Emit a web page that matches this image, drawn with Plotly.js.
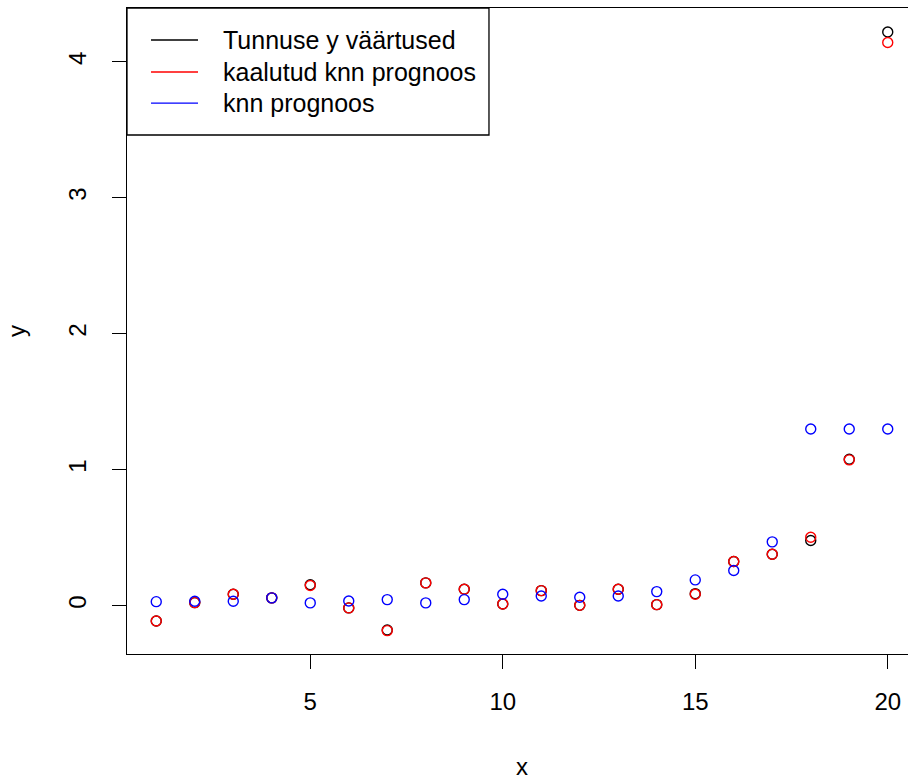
<!DOCTYPE html>
<html>
<head>
<meta charset="utf-8">
<script src="https://cdn.plot.ly/plotly-3.0.1.min.js"></script>
<style>
  html, body { margin: 0; padding: 0; background: #fff; overflow: hidden; }
  #frame { width: 908px; height: 780px; overflow: hidden; position: relative; }
  #plot { width: 960px; height: 780px; }
</style>
</head>
<body>
<div id="frame"><div id="plot"></div></div>
<script>
// x positions 1..20
const xs = [1, 2, 3, 4, 5, 6, 7, 8, 9, 10, 11, 12, 13, 14, 15, 16, 17, 18, 19, 20];

// observed y values
const yObserved = [-0.113, 0.022, 0.083, 0.057, 0.153, -0.017, -0.180, 0.167, 0.120, 0.012,
                   0.110, 0.002, 0.120, 0.007, 0.088, 0.324, 0.378, 0.479, 1.077, 4.219];

// weighted knn prediction
const yWeighted = [-0.113, 0.022, 0.083, 0.057, 0.148, -0.017, -0.184, 0.167, 0.120, 0.012,
                   0.110, 0.002, 0.120, 0.007, 0.084, 0.324, 0.378, 0.503, 1.072, 4.142];

// plain knn prediction
const yKnn = [0.029, 0.032, 0.032, 0.057, 0.020, 0.034, 0.044, 0.020, 0.044, 0.083,
              0.071, 0.061, 0.071, 0.103, 0.189, 0.258, 0.469, 1.299, 1.299, 1.299];

const seriesNames = ['Tunnuse y väärtused', 'kaalutud knn prognoos', 'knn prognoos'];
const seriesColors = ['#000000', '#ff0000', '#0000ff'];
const seriesValues = [yObserved, yWeighted, yKnn];

const fontFamily = '"Liberation Sans", Arial, sans-serif';

// open-circle points, drawn in order black, red, blue
const traces = seriesValues.map((vals, i) => ({
  x: xs, y: vals, type: 'scatter', mode: 'markers',
  name: seriesNames[i], showlegend: false, hoverinfo: 'x+y',
  marker: { symbol: 'circle-open', size: 10, color: seriesColors[i],
            line: { width: 1.4, color: seriesColors[i] } }
}));

// legend box in the top-left corner of the plot area (paper coordinates)
const legendBox = { x0: 0, x1: 0.4582, y0: 0.8034, y1: 1 };
const legendRows = [0.9505, 0.9009, 0.8529];
const keyX = [0.0304, 0.0899];
const labelX = 0.119;

const shapes = [{
  type: 'rect', xref: 'paper', yref: 'paper',
  x0: legendBox.x0, x1: legendBox.x1, y0: legendBox.y0, y1: legendBox.y1,
  line: { color: '#000', width: 1.3 }, fillcolor: '#fff', layer: 'above'
}];
const annotations = [];
seriesNames.forEach((name, i) => {
  shapes.push({
    type: 'line', xref: 'paper', yref: 'paper',
    x0: keyX[0], x1: keyX[1], y0: legendRows[i], y1: legendRows[i],
    line: { color: seriesColors[i], width: 1.3 }, layer: 'above'
  });
  annotations.push({
    xref: 'paper', yref: 'paper', x: labelX, y: legendRows[i],
    xanchor: 'left', yanchor: 'middle', showarrow: false, text: name,
    font: { family: fontFamily, size: 25, color: '#000' }
  });
});

const axisCommon = {
  showgrid: false, zeroline: false, showline: true, mirror: true,
  linecolor: '#000', linewidth: 1.3,
  ticks: 'outside', ticklen: 14, tickwidth: 1.3, tickcolor: '#000',
  tickfont: { family: fontFamily, size: 24, color: '#000' }
};

const layout = {
  width: 960, height: 780,
  margin: { l: 127, r: 43, t: 8, b: 126 },
  paper_bgcolor: '#fff', plot_bgcolor: '#fff',
  font: { family: fontFamily, size: 24, color: '#000' },
  showlegend: false,
  xaxis: Object.assign({}, axisCommon, {
    range: [0.24, 20.76], tickvals: [5, 10, 15, 20],
    ticklabelstandoff: 12,
    title: { text: 'x', font: { family: fontFamily, size: 24, color: '#000' }, standoff: 44 }
  }),
  yaxis: Object.assign({}, axisCommon, {
    range: [-0.356, 4.396], tickvals: [0, 1, 2, 3, 4], tickangle: -90,
    ticklabelstandoff: 16,
    title: { text: 'y', font: { family: fontFamily, size: 24, color: '#000' }, standoff: 31 }
  }),
  shapes: shapes,
  annotations: annotations
};

Plotly.newPlot('plot', traces, layout, { displayModeBar: false, staticPlot: true });
</script>
</body>
</html>
